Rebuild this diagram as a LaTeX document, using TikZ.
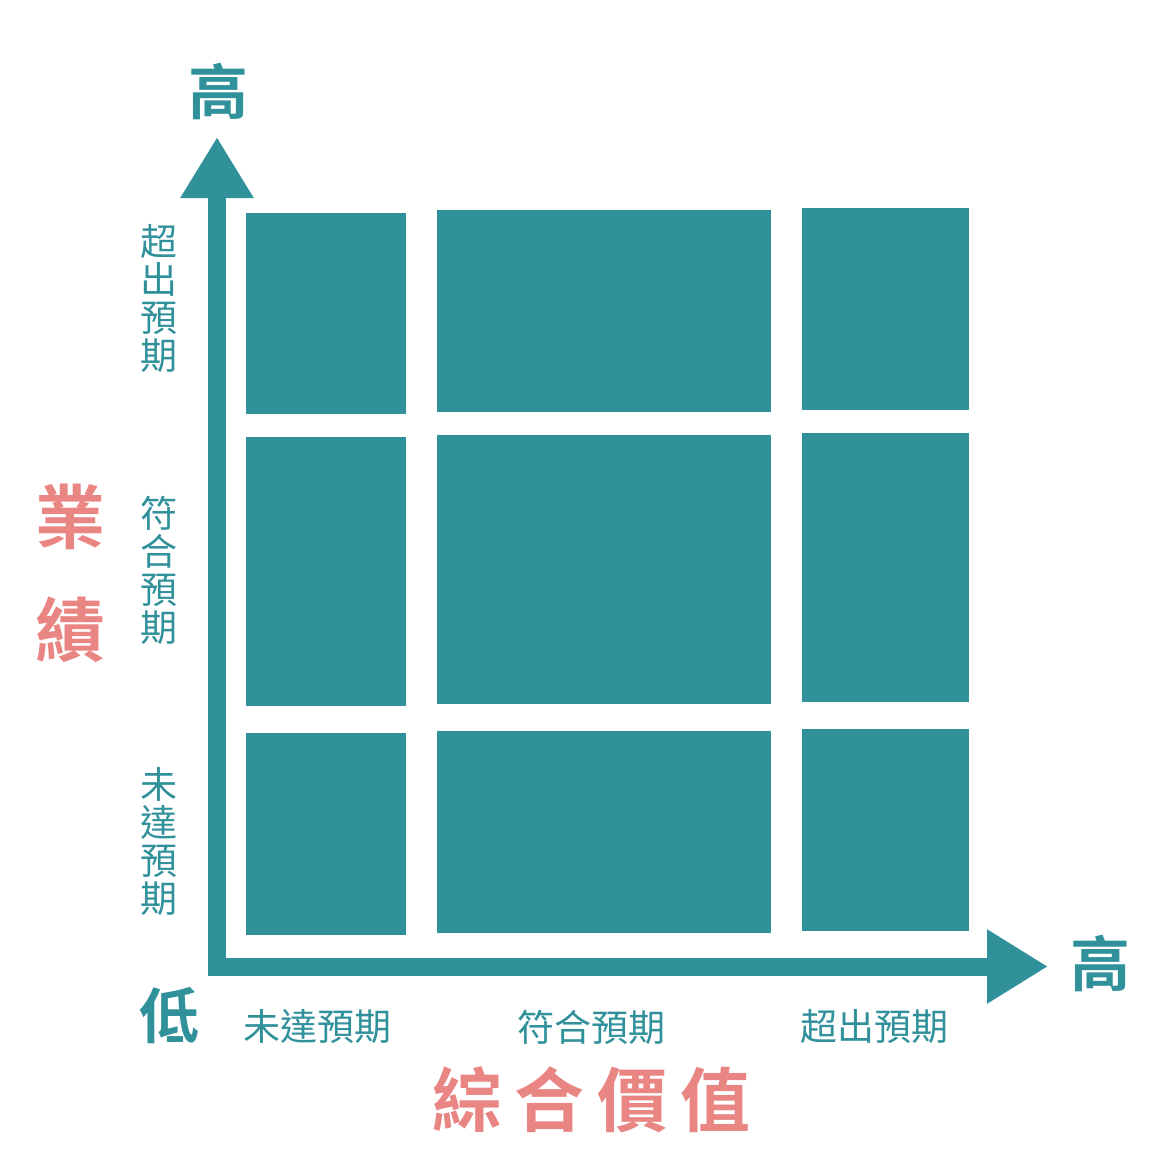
\documentclass[tikz,border=0pt]{standalone}
\usepackage{fontspec}
\usetikzlibrary{arrows.meta}
\newfontfamily\cjk{Noto Sans CJK TC}[BoldFont={Noto Sans CJK TC Bold}]
\definecolor{teal2}{HTML}{30919B}
\definecolor{pink2}{HTML}{E98683}
\tikzset{
  cell/.style={fill=teal2, inner sep=0pt, draw=none},
  axislabel/.style={text=teal2, font=\cjk\bfseries\fontsize{60}{60}\selectfont, inner sep=0pt},
  ticklabel/.style={text=teal2, font=\cjk\fontsize{37}{37}\selectfont, inner sep=0pt},
  vlabel/.style={text=teal2, font=\cjk\fontsize{37}{37}\selectfont, inner sep=0pt, align=center},
  titlelabel/.style={text=pink2, font=\cjk\bfseries\fontsize{70}{70}\selectfont, inner sep=0pt},
  axisline/.style={draw=teal2, line width=18pt, line join=miter,
    {Triangle[width=69pt,length=61pt]}-{Triangle[width=70pt,length=61pt]}}
}
\begin{document}
\begin{tikzpicture}[x=1pt,y=-1pt]
\useasboundingbox (0,0) rectangle (1167,1167);
% cells: column 1
\node[cell, minimum width=160pt, minimum height=201pt] (c11) at (326,313.5) {};
\node[cell, minimum width=160pt, minimum height=269pt] (c21) at (326,571.5) {};
\node[cell, minimum width=160pt, minimum height=202pt] (c31) at (326,834) {};
% column 2
\node[cell, minimum width=334pt, minimum height=202pt] (c12) at (604,311) {};
\node[cell, minimum width=334pt, minimum height=269pt] (c22) at (604,569.5) {};
\node[cell, minimum width=334pt, minimum height=202pt] (c32) at (604,832) {};
% column 3
\node[cell, minimum width=167pt, minimum height=202pt] (c13) at (885.5,309) {};
\node[cell, minimum width=167pt, minimum height=269pt] (c23) at (885.5,567.5) {};
\node[cell, minimum width=167pt, minimum height=202pt] (c33) at (885.5,830) {};
% axes
\coordinate (ytip) at (217,137);
\coordinate (corner) at (217,966.5);
\coordinate (xtip) at (1048,966.5);
\draw[axisline] (ytip) -- (corner) -- (xtip);
% axis end labels
\node[axislabel] (yhigh) at (218,91) {高};
\node[axislabel] (xhigh) at (1100,963) {高};
\node[axislabel] (low) at (169,1015) {低};
% vertical tick labels
\node[vlabel] (v3) at (159,298.5) {超\\[1pt]出\\[1pt]預\\[1pt]期};
\node[vlabel] (v2) at (159,570.5) {符\\[1pt]合\\[1pt]預\\[1pt]期};
\node[vlabel] (v1) at (159,841.5) {未\\[1pt]達\\[1pt]預\\[1pt]期};
% horizontal tick labels
\node[ticklabel] (h1) at (317,1027) {未達預期};
\node[ticklabel] (h2) at (591,1027) {符合預期};
\node[ticklabel] (h3) at (874,1027) {超出預期};
% titles
\node[titlelabel] (ye) at (70,516.5) {業};
\node[titlelabel] (ji) at (70,629.5) {績};
\node[titlelabel] (xt) at (591.5,1100) {綜\hspace{13pt}合\hspace{13pt}價\hspace{13pt}值};
\end{tikzpicture}
\end{document}
